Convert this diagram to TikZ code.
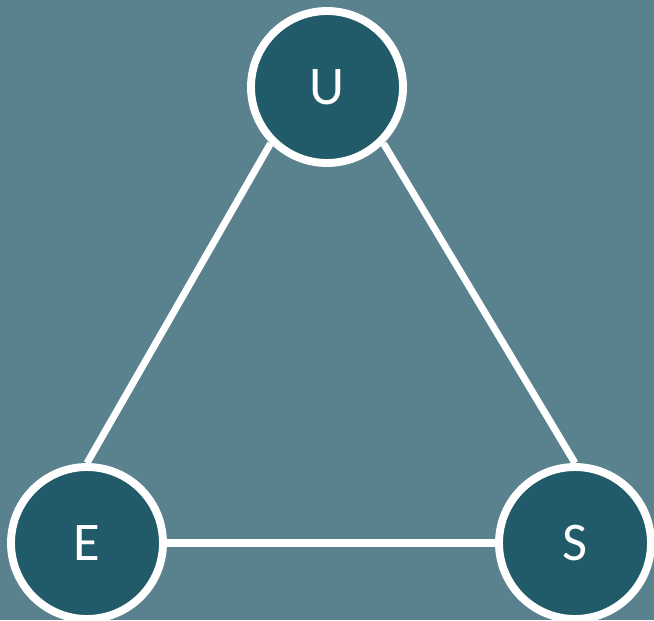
\documentclass[tikz,border=0pt]{standalone}
\usepackage{fontspec}
\setmainfont{Carlito}
\definecolor{bgteal}{HTML}{5A828E}
\definecolor{darkteal}{HTML}{215A68}
\begin{document}
\begin{tikzpicture}[
    vertex/.style={circle,draw=white,line width=4.5pt,fill=darkteal,
        minimum size=3.04cm,inner sep=0pt,text=white,
        font=\fontsize{31}{31}\selectfont},
    edge/.style={draw=white,line width=4pt}
]
\fill[bgteal] (0,0) rectangle (13.08,12.4);
\useasboundingbox (0,0) rectangle (13.08,12.4);
\node[vertex] (u) at (6.54,10.66) {U};
\node[vertex] (e) at (1.74,1.54) {E};
\node[vertex] (s) at (11.5,1.54) {S};
\draw[edge] (u.south west)--(e.north);
\draw[edge] (e.east)--(s.west);
\draw[edge] (u.south east)--(s.north);
\end{tikzpicture}
\end{document}
